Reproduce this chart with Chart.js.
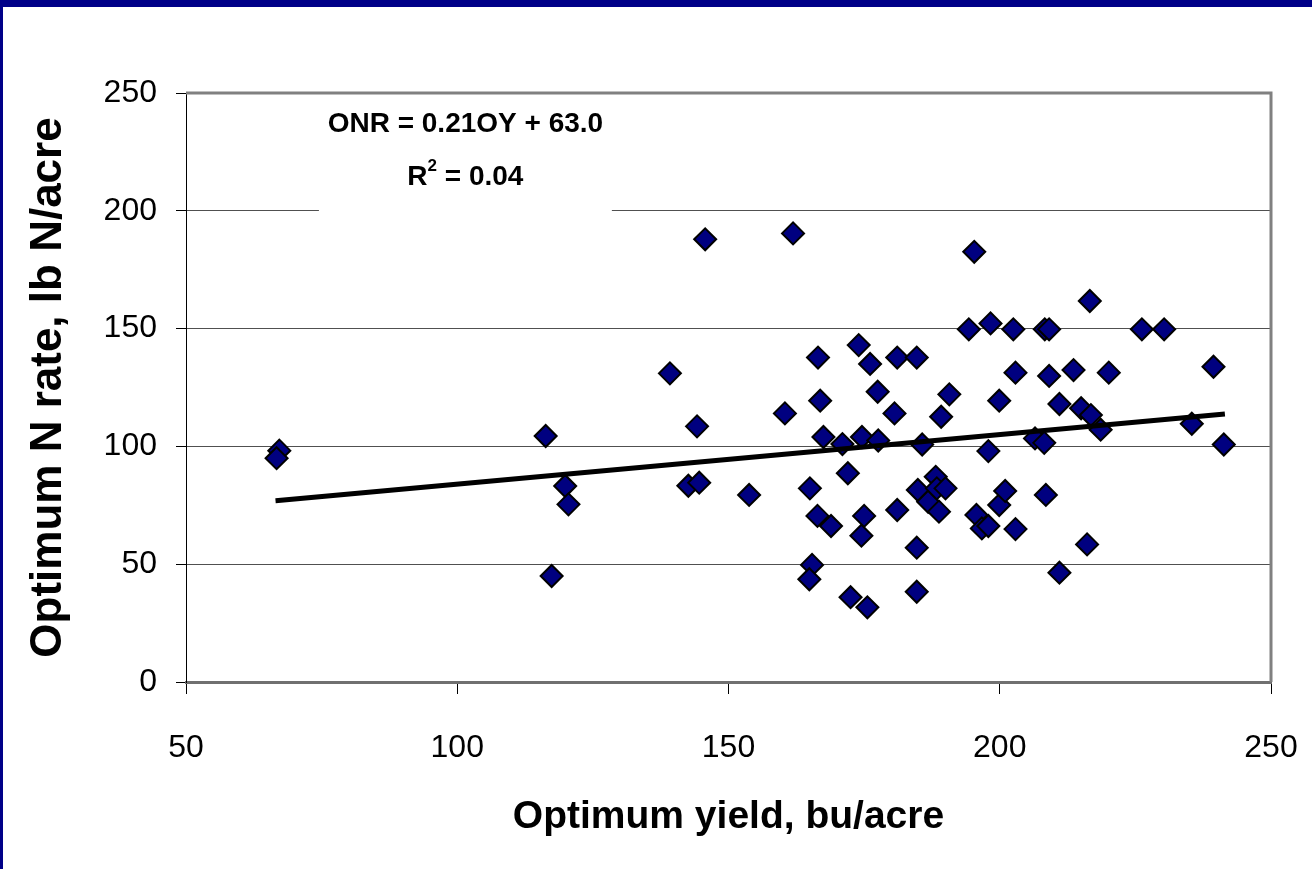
<!DOCTYPE html>
<html>
<head>
<meta charset="utf-8">
<title>Optimum N rate vs optimum yield</title>
<script src="https://cdn.jsdelivr.net/npm/chart.js@4.4.1/dist/chart.umd.min.js"></script>
<style>
  html, body { margin: 0; padding: 0; background: #fff; overflow: hidden; }
  #wrap { position: relative; width: 1312px; height: 869px; }
  #topBar { position: absolute; left: 0; top: 0; width: 1312px; height: 7px; background: #000088; }
  #leftBar { position: absolute; left: 0; top: 0; width: 3px; height: 869px; background: #000088; }
  canvas { position: absolute; left: 0; top: 0; }
</style>
</head>
<body>
<div id="wrap">
  <canvas id="myChart" width="1312" height="869"></canvas>
  <div id="topBar"></div>
  <div id="leftBar"></div>
</div>
<script>
// optimum yield (bu/acre) and optimum N rate (lb N/acre) per site
const yieldVals = [
  67.2, 66.7, 116.3, 119.9, 120.5, 117.4, 139.2, 144.2, 142.6, 144.6,
  145.7, 153.8, 160.4, 161.9, 165.0, 165.4, 164.9, 166.5, 166.9, 167.5,
  166.4, 168.9, 171.0, 172.0, 172.5, 174.0, 174.6, 175.0, 174.5, 175.6,
  176.1, 177.5, 177.6, 180.6, 181.1, 181.1, 184.7, 184.7, 184.7, 184.9,
  185.7, 186.8, 188.2, 188.4, 190.0, 188.8, 189.2, 190.7, 194.3, 195.3,
  195.7, 196.7, 197.9, 197.9, 198.3, 199.9, 199.9, 201.0, 202.5, 202.9,
  202.9, 206.5, 208.2, 208.3, 209.1, 209.1, 208.5, 211.0, 211.0, 213.6,
  215.0, 216.8, 216.6, 216.1, 218.6, 220.1, 226.2, 230.3, 235.4, 239.4,
  241.3
];
const nRateVals = [
  98.2, 95.0, 104.4, 83.2, 75.4, 45.0, 131.0, 108.5, 83.3, 84.6,
  187.9, 79.4, 114.0, 190.4, 82.2, 49.7, 43.6, 137.7, 119.4, 104.0,
  70.5, 66.2, 101.0, 88.6, 36.0, 143.0, 104.0, 70.5, 62.1, 31.7,
  135.0, 123.2, 102.5, 114.0, 137.7, 73.0, 137.7, 57.0, 38.3, 81.5,
  100.8, 76.5, 87.1, 82.2, 82.2, 72.3, 112.6, 122.1, 149.7, 182.6,
  70.9, 65.2, 66.2, 98.0, 152.2, 119.4, 75.1, 81.1, 149.7, 131.3,
  64.9, 103.4, 101.5, 149.7, 149.7, 129.9, 79.4, 118.0, 46.4, 132.4,
  116.2, 113.3, 161.7, 58.4, 107.1, 131.3, 149.7, 149.7, 109.6, 133.8,
  100.8
];

// fitted line ONR = 0.21 OY + 63.0 over the observed yield range
const trendSlope = 0.21;
const trendIntercept = 63.0;
const trendRange = [66.5, 241.5];

const xTicks = [50, 100, 150, 200, 250];
const yTicks = [0, 50, 100, 150, 200, 250];

const points = yieldVals.map((x, i) => ({ x: x, y: nRateVals[i] }));
const trendPoints = trendRange.map(x => ({ x: x, y: trendSlope * x + trendIntercept }));

const fontFamily = '"Liberation Sans", Arial, sans-serif';

// grey frame on the top and right of the plot area
const frame = {
  id: 'frame',
  beforeDatasetsDraw(chart) {
    const { ctx, chartArea: a } = chart;
    ctx.save();
    ctx.strokeStyle = '#808080';
    ctx.lineWidth = 3;
    ctx.beginPath();
    ctx.moveTo(a.left, a.top);
    ctx.lineTo(a.right, a.top);
    ctx.lineTo(a.right, a.bottom);
    ctx.stroke();
    ctx.restore();
  }
};

// equation label in a white box
const equation = {
  id: 'equation',
  beforeDatasetsDraw(chart) {
    const { ctx } = chart;
    const xs = chart.scales.x, ys = chart.scales.y;
    const left = xs.getPixelForValue(74.5), right = xs.getPixelForValue(128.5);
    const cx = (left + right) / 2;
    ctx.save();
    ctx.fillStyle = '#fff';
    ctx.fillRect(left, ys.getPixelForValue(248), right - left, ys.getPixelForValue(199) - ys.getPixelForValue(248));

    ctx.fillStyle = '#000';
    ctx.textBaseline = 'middle';
    ctx.font = 'bold 28px ' + fontFamily;
    ctx.textAlign = 'center';
    ctx.fillText('ONR = ' + trendSlope.toFixed(2) + 'OY + ' + trendIntercept.toFixed(1), cx, 124);

    const r = 'R', sup = '2', rest = ' = 0.04';
    ctx.textAlign = 'left';
    const wR = ctx.measureText(r).width;
    const wRest = ctx.measureText(rest).width;
    ctx.font = 'bold 17px ' + fontFamily;
    const wSup = ctx.measureText(sup).width;
    const start = cx - (wR + wSup + wRest) / 2;
    ctx.font = 'bold 28px ' + fontFamily;
    ctx.fillText(r, start, 177);
    ctx.fillText(rest, start + wR + wSup, 177);
    ctx.font = 'bold 17px ' + fontFamily;
    ctx.fillText(sup, start + wR, 166);
    ctx.restore();
  }
};

const datas = {
  datasets: [
    {
      label: 'ONR fit',
      data: trendPoints,
      showLine: true,
      borderColor: '#000',
      borderWidth: 5,
      pointRadius: 0,
      order: 0
    },
    {
      label: 'Sites',
      data: points,
      pointStyle: 'rectRot',
      pointRadius: 11,
      pointBackgroundColor: '#000080',
      pointBorderColor: '#000',
      pointBorderWidth: 2,
      showLine: false,
      order: 1
    }
  ]
};

const config = {
  type: 'scatter',
  data: datas,
  plugins: [frame, equation],
  options: {
    responsive: false,
    animation: false,
    layout: { padding: { left: 0, top: 93, right: 41, bottom: 0 } },
    plugins: { legend: { display: false }, tooltip: { enabled: false } },
    scales: {
      x: {
        type: 'linear',
        min: 50,
        max: 250,
        afterFit: s => { s.height = 187; s.paddingLeft = 0; s.paddingRight = 0; },
        afterBuildTicks: s => { s.ticks = xTicks.map(v => ({ value: v })); },
        grid: { drawOnChartArea: false, drawTicks: true, tickLength: 12, tickColor: '#000', tickWidth: 1 },
        border: { display: true, color: '#707070', width: 3 },
        ticks: { color: '#000', padding: 35, font: { family: fontFamily, size: 32 } },
        title: {
          display: true,
          text: 'Optimum yield, bu/acre',
          color: '#000',
          padding: { top: 0, bottom: 28 },
          font: { family: fontFamily, size: 39, weight: 'bold' }
        }
      },
      y: {
        type: 'linear',
        min: 0,
        max: 250,
        afterFit: s => { s.width = 186; s.paddingTop = 0; s.paddingBottom = 0; },
        afterBuildTicks: s => { s.ticks = yTicks.map(v => ({ value: v })); },
        grid: { color: '#505050', lineWidth: 1, drawTicks: true, tickLength: 10, tickColor: '#000' },
        border: { display: true, color: '#000', width: 1 },
        ticks: { color: '#000', padding: 19, font: { family: fontFamily, size: 32 } },
        title: {
          display: true,
          text: 'Optimum N rate, lb N/acre',
          color: '#000',
          padding: { top: 22, bottom: 0 },
          font: { family: fontFamily, size: 44, weight: 'bold' }
        }
      }
    }
  }
};

const ctx = document.getElementById('myChart');

new Chart(ctx, config);
</script>
</body>
</html>
